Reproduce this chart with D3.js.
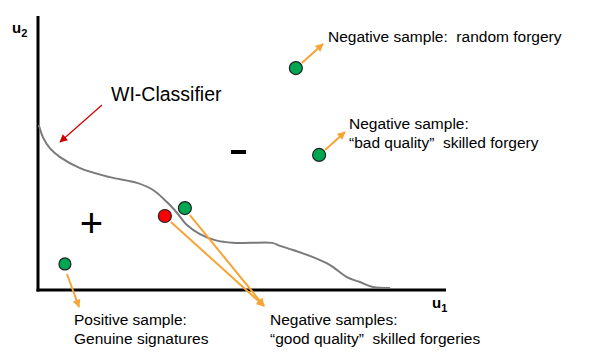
<!DOCTYPE html>
<html><head><meta charset="utf-8">
<script src="https://cdn.jsdelivr.net/npm/d3@7"></script>
<style>body{margin:0;background:#fff}svg{display:block}text{font-family:"Liberation Sans",Arial,sans-serif;white-space:pre}</style>
</head><body><svg id="c" width="602" height="356"></svg>
<script>
// classifier boundary (u1, u2) in axis units 0..10
const curveU1 = [0.02,0.12,0.29,0.54,1.03,1.76,2.43,2.82,3.16,3.41,3.65,3.97,4.34,4.78,5.20,5.74,5.93,6.25,6.74,7.16,7.57,7.89,8.21,8.63];
const curveU2 = [6.02,5.58,5.18,4.85,4.45,4.12,3.91,3.65,3.21,2.81,2.37,2.04,1.82,1.72,1.72,1.72,1.61,1.46,1.20,0.91,0.47,0.29,0.11,0.07];
// samples
const sampleNames = ["random","bad","good1","good2","positive"];
const sampleU1 = [6.32,6.89,3.11,3.60,0.66];
const sampleU2 = [8.10,4.93,2.70,2.99,0.95];
const sampleColor = ["#00a651","#00a651","#ff0000","#00a651","#00a651"];
const labels = [
  ["Negative sample:  random forgery"],
  ["Negative sample:", "\u201Cbad quality\u201D  skilled forgery"],
  ["Positive sample:", "Genuine signatures"],
  ["Negative samples:", "\u201Cgood quality\u201D  skilled forgeries"]
];

const svg = d3.select("#c");
const x = d3.scaleLinear().domain([0,10]).range([38,446]);
const y = d3.scaleLinear().domain([0,10]).range([290,16]);
const orange = "#f7a436";
const defs = svg.append("defs");
function marker(id,color,w,h){
  defs.append("marker").attr("id",id).attr("viewBox","0 0 10 10").attr("refX",9).attr("refY",5)
    .attr("markerWidth",w).attr("markerHeight",h).attr("markerUnits","userSpaceOnUse").attr("orient","auto")
    .append("path").attr("d","M0,0L10,5L0,10z").attr("fill",color);
}
marker("ao",orange,9,8);
marker("ar","#cc0000",9,8);

// axes
svg.append("line").attr("x1",x(0)).attr("x2",x(0)).attr("y1",y(10)).attr("y2",y(0)+1.5).attr("stroke","#000").attr("stroke-width",3);
svg.append("line").attr("x1",x(0)-1.5).attr("x2",x(10)).attr("y1",y(0)).attr("y2",y(0)).attr("stroke","#000").attr("stroke-width",3);
const u2 = svg.append("text").attr("x",12).attr("y",33).attr("font-size",15).attr("font-weight","bold").attr("fill","#000");
u2.append("tspan").text("u");
u2.append("tspan").attr("font-size",11).attr("dy",4).text("2");
const u1 = svg.append("text").attr("x",432).attr("y",308).attr("font-size",15).attr("font-weight","bold").attr("fill","#000");
u1.append("tspan").text("u");
u1.append("tspan").attr("font-size",11).attr("dy",4).text("1");

// curve
const pts = curveU1.map((d,i)=>[d,curveU2[i]]);
svg.append("path").datum(pts)
  .attr("d",d3.line().x(d=>x(d[0])).y(d=>y(d[1])).curve(d3.curveCatmullRom))
  .attr("fill","none").attr("stroke","#7a7a7a").attr("stroke-width",2);

// region signs
svg.append("text").attr("x",91.5).attr("y",237).attr("text-anchor","middle").attr("font-size",40).text("+");
svg.append("rect").attr("x",231).attr("y",150).attr("width",15).attr("height",4).attr("fill","#000");

// classifier label + red arrow
svg.append("text").attr("x",111).attr("y",101).attr("font-size",19.5).text("WI-Classifier");
svg.append("line").attr("x1",102).attr("y1",105).attr("x2",60).attr("y2",142)
  .attr("stroke","#cc0000").attr("stroke-width",1.2).attr("marker-end","url(#ar)");

// orange arrows
function arrow(i,dx1,dy1,tx,ty){
  const px=x(sampleU1[i]), py=y(sampleU2[i]);
  svg.append("line").attr("x1",px+dx1).attr("y1",py+dy1).attr("x2",tx).attr("y2",ty)
    .attr("stroke",orange).attr("stroke-width",2).attr("marker-end","url(#ao)");
}
arrow(0,6,-5,323,44);
arrow(1,6,-5,345,132);
arrow(4,2,10,79,307);
arrow(2,6,6,264,306);
arrow(3,5,7,264,306);

// samples
svg.selectAll("circle.s").data(sampleNames).enter().append("circle").attr("class","s")
  .attr("cx",(d,i)=>x(sampleU1[i])).attr("cy",(d,i)=>y(sampleU2[i])).attr("r",(d,i)=>i===4?6:6.5)
  .attr("fill",(d,i)=>sampleColor[i]).attr("stroke","#222").attr("stroke-width",1.2);

// text labels
function label(lines,lx,ly){
  const t=svg.append("text").attr("x",lx).attr("y",ly).attr("font-size",15.5).attr("fill","#000");
  lines.forEach((s,k)=>t.append("tspan").attr("x",lx).attr("dy",k?18.5:0).text(s));
}
label(labels[0],328,42);
label(labels[1],349,129);
label(labels[2],74,325);
label(labels[3],270,325);
</script></body></html>
